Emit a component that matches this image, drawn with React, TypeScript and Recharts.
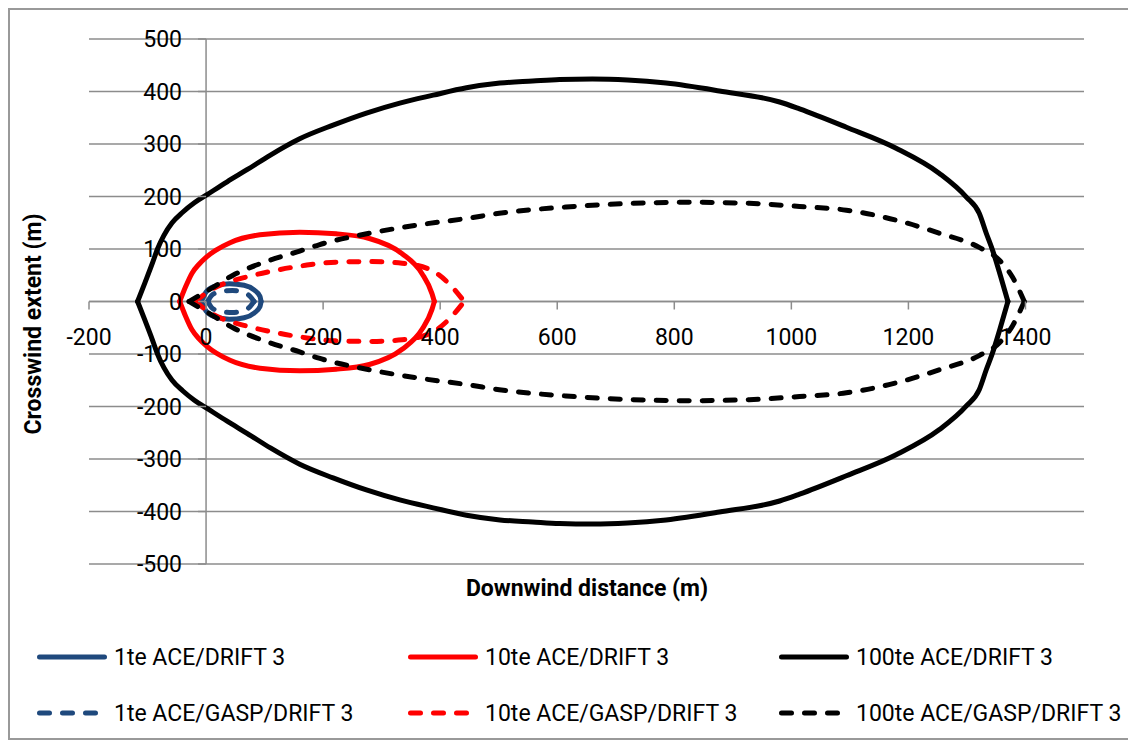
import React from "react";
import { LineChart, Line, XAxis, YAxis, CartesianGrid, ReferenceLine } from "recharts";

type Pt = { x: number; y: number };

const xTicks = [-200, 0, 200, 400, 600, 800, 1000, 1200, 1400];
const yTicks = [-500, -400, -300, -200, -100, 0, 100, 200, 300, 400, 500];
const X_DOMAIN: [number, number] = [-200, 1500];
const Y_DOMAIN: [number, number] = [-500, 500];

const xTitle = "Downwind distance (m)";
const yTitle = "Crosswind extent (m)";

// 1te ACE/DRIFT 3
const ace1Upper: Pt[] = [
  { x: -8, y: 0 }, { x: 0, y: 18 }, { x: 15, y: 29 }, { x: 40, y: 34 }, { x: 65, y: 31 },
  { x: 82, y: 22 }, { x: 92, y: 10 }, { x: 94, y: 0 },
];
const ace1Lower: Pt[] = [
  { x: -8, y: 0 }, { x: 0, y: -18 }, { x: 15, y: -29 }, { x: 40, y: -34 }, { x: 65, y: -31 },
  { x: 82, y: -22 }, { x: 92, y: -10 }, { x: 94, y: 0 },
];
// 10te ACE/DRIFT 3
const ace10Upper: Pt[] = [
  { x: -45, y: 0 }, { x: -35, y: 28 }, { x: -24, y: 54 }, { x: -12, y: 71 }, { x: 1, y: 85 },
  { x: 41, y: 112 }, { x: 92, y: 127 }, { x: 160, y: 132 }, { x: 222, y: 129 }, { x: 279, y: 120 },
  { x: 335, y: 91 }, { x: 369, y: 53 }, { x: 386, y: 15 }, { x: 390, y: 0 },
];
const ace10Lower: Pt[] = [
  { x: -45, y: 0 }, { x: -35, y: -28 }, { x: -24, y: -54 }, { x: -12, y: -71 }, { x: 1, y: -85 },
  { x: 41, y: -112 }, { x: 92, y: -127 }, { x: 160, y: -132 }, { x: 222, y: -129 }, { x: 279, y: -120 },
  { x: 335, y: -91 }, { x: 369, y: -53 }, { x: 386, y: -15 }, { x: 390, y: 0 },
];
// 100te ACE/DRIFT 3
const ace100Upper: Pt[] = [
  { x: -117, y: 0 }, { x: -104, y: 37 }, { x: -92, y: 72 }, { x: -83, y: 100 }, { x: -72, y: 126 },
  { x: -58, y: 150 }, { x: -40, y: 170 }, { x: -20, y: 188 }, { x: 1, y: 203 }, { x: 36, y: 228 },
  { x: 70, y: 251 }, { x: 110, y: 279 }, { x: 160, y: 310 }, { x: 217, y: 336 }, { x: 274, y: 359 },
  { x: 331, y: 378 }, { x: 388, y: 393 }, { x: 445, y: 407 }, { x: 502, y: 416 }, { x: 558, y: 420 },
  { x: 604, y: 423 }, { x: 660, y: 424 }, { x: 720, y: 422 }, { x: 786, y: 416 }, { x: 877, y: 401 },
  { x: 980, y: 380 }, { x: 1014, y: 367 }, { x: 1094, y: 332 }, { x: 1179, y: 292 }, { x: 1253, y: 244 },
  { x: 1299, y: 199 }, { x: 1321, y: 168 }, { x: 1333, y: 130 }, { x: 1344, y: 97 }, { x: 1357, y: 50 },
  { x: 1370, y: 0 },
];
const ace100Lower: Pt[] = [
  { x: -117, y: 0 }, { x: -104, y: -37 }, { x: -92, y: -72 }, { x: -83, y: -100 }, { x: -72, y: -126 },
  { x: -58, y: -150 }, { x: -40, y: -170 }, { x: -20, y: -188 }, { x: 1, y: -203 }, { x: 36, y: -228 },
  { x: 70, y: -251 }, { x: 110, y: -279 }, { x: 160, y: -310 }, { x: 217, y: -336 }, { x: 274, y: -359 },
  { x: 331, y: -378 }, { x: 388, y: -393 }, { x: 445, y: -407 }, { x: 502, y: -416 }, { x: 558, y: -420 },
  { x: 604, y: -423 }, { x: 660, y: -424 }, { x: 720, y: -422 }, { x: 786, y: -416 }, { x: 877, y: -401 },
  { x: 980, y: -380 }, { x: 1014, y: -367 }, { x: 1094, y: -332 }, { x: 1179, y: -292 }, { x: 1253, y: -244 },
  { x: 1299, y: -199 }, { x: 1321, y: -168 }, { x: 1333, y: -130 }, { x: 1344, y: -97 }, { x: 1357, y: -50 },
  { x: 1370, y: 0 },
];
// 1te ACE/GASP/DRIFT 3
const gasp1Upper: Pt[] = [
  { x: 3, y: 0 }, { x: 10, y: 12 }, { x: 25, y: 19 }, { x: 45, y: 21 }, { x: 62, y: 18 },
  { x: 75, y: 10 }, { x: 82, y: 0 },
];
const gasp1Lower: Pt[] = [
  { x: 3, y: 0 }, { x: 10, y: -12 }, { x: 25, y: -19 }, { x: 45, y: -21 }, { x: 62, y: -18 },
  { x: 75, y: -10 }, { x: 82, y: 0 },
];
// 10te ACE/GASP/DRIFT 3
const gasp10Upper: Pt[] = [
  { x: -18, y: 0 }, { x: 5, y: 20 }, { x: 24, y: 31 }, { x: 70, y: 47 }, { x: 109, y: 57 },
  { x: 170, y: 69 }, { x: 222, y: 75 }, { x: 279, y: 76 }, { x: 335, y: 73 }, { x: 386, y: 59 },
  { x: 415, y: 34 }, { x: 441, y: 0 },
];
const gasp10Lower: Pt[] = [
  { x: -18, y: 0 }, { x: 5, y: -20 }, { x: 24, y: -31 }, { x: 70, y: -47 }, { x: 109, y: -57 },
  { x: 170, y: -69 }, { x: 222, y: -75 }, { x: 279, y: -76 }, { x: 335, y: -73 }, { x: 386, y: -59 },
  { x: 415, y: -34 }, { x: 441, y: 0 },
];
// 100te ACE/GASP/DRIFT 3
const gasp100Upper: Pt[] = [
  { x: -29, y: 0 }, { x: 6, y: 23 }, { x: 46, y: 50 }, { x: 97, y: 74 }, { x: 160, y: 96 },
  { x: 193, y: 108 }, { x: 279, y: 130 }, { x: 364, y: 146 }, { x: 450, y: 159 }, { x: 501, y: 168 },
  { x: 615, y: 180 }, { x: 729, y: 187 }, { x: 826, y: 189 }, { x: 928, y: 187 }, { x: 1014, y: 181 },
  { x: 1094, y: 174 }, { x: 1179, y: 155 }, { x: 1253, y: 130 }, { x: 1321, y: 103 }, { x: 1356, y: 78 },
  { x: 1378, y: 46 }, { x: 1398, y: 0 },
];
const gasp100Lower: Pt[] = [
  { x: -29, y: 0 }, { x: 6, y: -23 }, { x: 46, y: -50 }, { x: 97, y: -74 }, { x: 160, y: -96 },
  { x: 193, y: -108 }, { x: 279, y: -130 }, { x: 364, y: -146 }, { x: 450, y: -159 }, { x: 501, y: -168 },
  { x: 615, y: -180 }, { x: 729, y: -187 }, { x: 826, y: -189 }, { x: 928, y: -187 }, { x: 1014, y: -181 },
  { x: 1094, y: -174 }, { x: 1179, y: -155 }, { x: 1253, y: -130 }, { x: 1321, y: -103 }, { x: 1356, y: -78 },
  { x: 1378, y: -46 }, { x: 1398, y: 0 },
];

const seriesNames = [
  "1te ACE/DRIFT 3",
  "10te ACE/DRIFT 3",
  "100te ACE/DRIFT 3",
  "1te ACE/GASP/DRIFT 3",
  "10te ACE/GASP/DRIFT 3",
  "100te ACE/GASP/DRIFT 3",
];
const seriesColors = ["#1F497D", "#FF0000", "#000000", "#1F497D", "#FF0000", "#000000"];
const seriesDashed = [false, false, false, true, true, true];
const seriesUpper = [ace1Upper, ace10Upper, ace100Upper, gasp1Upper, gasp10Upper, gasp100Upper];
const seriesLower = [ace1Lower, ace10Lower, ace100Lower, gasp1Lower, gasp10Lower, gasp100Lower];

// layout
const CHART_W = 1118;
const CHART_H = 728;
const Y_AXIS_W = 20;
const X_AXIS_H = 20;
const MARGIN = { top: 29, right: 44, left: 59, bottom: 154 };
const PLOT_LEFT = MARGIN.left + Y_AXIS_W;
const PLOT_TOP = MARGIN.top;
const PLOT_W = CHART_W - PLOT_LEFT - MARGIN.right;
const PLOT_H = CHART_H - PLOT_TOP - MARGIN.bottom - X_AXIS_H;
const ZERO_X = PLOT_LEFT + ((0 - X_DOMAIN[0]) / (X_DOMAIN[1] - X_DOMAIN[0])) * PLOT_W;
const ZERO_Y = PLOT_TOP + ((Y_DOMAIN[1] - 0) / (Y_DOMAIN[1] - Y_DOMAIN[0])) * PLOT_H;

const FONT = "Roboto, 'Liberation Sans', sans-serif";
const GRID = "#8c8c8c";
const DASH = "10 13";

const XTick = (props: any) => {
  const { x, payload } = props;
  return (
    <g>
      <line x1={x} x2={x} y1={ZERO_Y} y2={ZERO_Y + 8} stroke={GRID} strokeWidth={1.5} />
      <text x={x} y={ZERO_Y + 43} textAnchor="middle" fontFamily={FONT} fontSize={23} fill="#000">
        {payload.value}
      </text>
    </g>
  );
};

const YTick = (props: any) => {
  const { y, payload } = props;
  return (
    <g>
      <line x1={ZERO_X - 8} x2={ZERO_X} y1={y} y2={y} stroke={GRID} strokeWidth={1.5} />
      <text x={ZERO_X - 24} y={y + 8} textAnchor="end" fontFamily={FONT} fontSize={23} fill="#000">
        {payload.value}
      </text>
    </g>
  );
};

export default function App() {
  return (
    <div
      style={{
        position: "relative",
        width: 1122,
        height: 732,
        boxSizing: "border-box",
        border: "2px solid #999",
        background: "#fff",
      }}
    >
      <LineChart width={CHART_W} height={CHART_H} margin={MARGIN}>
        <CartesianGrid vertical={false} stroke={GRID} strokeWidth={1.5} />
        <XAxis
          type="number"
          dataKey="x"
          domain={X_DOMAIN}
          ticks={xTicks}
          interval={0}
          allowDataOverflow
          height={X_AXIS_H}
          axisLine={false}
          tickLine={false}
          tick={XTick}
        />
        <YAxis
          type="number"
          dataKey="y"
          domain={Y_DOMAIN}
          ticks={yTicks}
          interval={0}
          allowDataOverflow
          width={Y_AXIS_W}
          axisLine={false}
          tickLine={false}
          tick={YTick}
        />
        <ReferenceLine y={0} stroke={GRID} strokeWidth={1.5} />
        <ReferenceLine x={0} stroke={GRID} strokeWidth={1.5} />
        {seriesNames.map((name, i) =>
          [seriesUpper[i], seriesLower[i]].map((half, h) => (
            <Line
              key={`${name}-${h}`}
              data={half}
              dataKey="y"
              name={name}
              type="monotone"
              stroke={seriesColors[i]}
              strokeWidth={5}
              strokeDasharray={seriesDashed[i] ? DASH : undefined}
              strokeLinecap="round"
              strokeLinejoin="round"
              dot={false}
              activeDot={false}
              isAnimationActive={false}
            />
          ))
        )}
      </LineChart>
      <svg
        width={CHART_W}
        height={CHART_H}
        style={{ position: "absolute", left: 0, top: 0, pointerEvents: "none" }}
      >
        <text
          x={577}
          y={586}
          textAnchor="middle"
          fontFamily={FONT}
          fontWeight="bold"
          fontSize={23}
          fill="#000"
        >
          {xTitle}
        </text>
        <text
          transform="translate(31 314) rotate(-90)"
          textAnchor="middle"
          fontFamily={FONT}
          fontWeight="bold"
          fontSize={23}
          fill="#000"
        >
          {yTitle}
        </text>
        {seriesNames.map((name, i) => {
          const col = i % 3;
          const row = Math.floor(i / 3);
          const lx = 27 + col * 371;
          const ly = 647 + row * 56;
          return (
            <g key={name}>
              <line
                x1={lx + 2.5}
                x2={lx + 67.5}
                y1={ly}
                y2={ly}
                stroke={seriesColors[i]}
                strokeWidth={5}
                strokeLinecap="round"
                strokeDasharray={seriesDashed[i] ? DASH : undefined}
              />
              <text x={lx + 77} y={ly + 8} fontFamily={FONT} fontSize={23} fill="#000">
                {name}
              </text>
            </g>
          );
        })}
      </svg>
    </div>
  );
}
